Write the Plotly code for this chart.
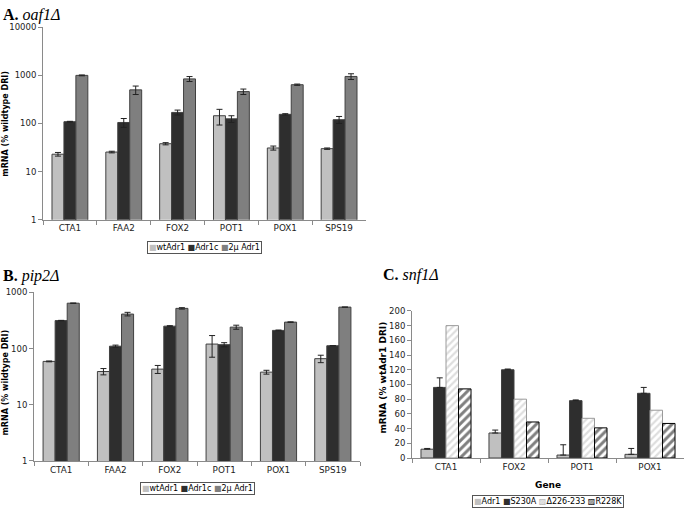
import plotly.graph_objects as go

W, H = 685, 514

# ---------------- data ----------------
genes_ab = ["CTA1", "FAA2", "FOX2", "POT1", "POX1", "SPS19"]
series_ab = ["wtAdr1", "Adr1c", "2μ Adr1"]

a_wt = [23, 25.5, 38, 145, 31, 30]
a_wt_err = [2, 1, 2, 52, 3, 1]
a_c = [109, 105, 170, 125, 155, 120]
a_c_err = [2, 22, 20, 20, 5, 20]
a_2u = [1000, 500, 845, 460, 640, 950]
a_2u_err = [20, 100, 100, 60, 20, 130]

b_wt = [59, 39, 43, 120, 38, 66]
b_wt_err = [1, 5, 7, 50, 3, 10]
b_c = [314, 110, 250, 117, 210, 112]
b_c_err = [3, 5, 5, 10, 3, 0]
b_2u = [640, 410, 518, 240, 295, 545]
b_2u_err = [3, 30, 15, 20, 3, 0]

genes_c = ["CTA1", "FOX2", "POT1", "POX1"]
series_c = ["Adr1", "S230A", "Δ226-233", "R228K"]
c_adr1 = [12, 34, 4, 5]
c_adr1_err = [1, 4, 14, 8]
c_s230a = [96, 120, 78, 88]
c_s230a_err = [13, 1, 1, 8]
c_d226 = [180, 80, 54, 65]
c_r228k = [94, 49, 41, 47]

log_ticks = [1, 10, 100, 1000, 10000]
log_text = ["1", "10", "100", "1000", "10000"]
lin_ticks = list(range(0, 201, 20))

# ---------------- helpers ----------------
def px_x(p):
    return p / W

def px_y(p):
    return 1 - p / H

fig = go.Figure()

col_light = "#c0c0c0"
col_dark = "#2e2e2e"
col_mid = "#7f7f7f"
edge = "#404040"

def add_bar(x, y, err, color, xa, ya, off, w, minus=True, pattern=None, line=edge):
    eb = None
    if err is not None:
        eb = dict(type="data", array=err, color="#222222", thickness=1, width=3, visible=True)
        if not minus:
            eb["symmetric"] = False
            eb["arrayminus"] = [0] * len(err)
    marker = dict(color=color, line=dict(color=line, width=1))
    if pattern:
        marker["pattern"] = pattern
    fig.add_trace(go.Bar(x=x, y=y, error_y=eb, marker=marker, xaxis=xa, yaxis=ya,
                         offset=off, width=w, showlegend=False))

wa = 0.222
offs_a = [-1.5 * wa, -0.5 * wa, 0.5 * wa]
for vals, errs, col, o in [(a_wt, a_wt_err, col_light, offs_a[0]),
                           (a_c, a_c_err, col_dark, offs_a[1]),
                           (a_2u, a_2u_err, col_mid, offs_a[2])]:
    add_bar(genes_ab, vals, errs, col, "x", "y", o, wa)

for vals, errs, col, o in [(b_wt, b_wt_err, col_light, offs_a[0]),
                           (b_c, b_c_err, col_dark, offs_a[1]),
                           (b_2u, b_2u_err, col_mid, offs_a[2])]:
    add_bar(genes_ab, vals, errs, col, "x2", "y2", o, wa)

wc = 0.184
offs_c = [-2 * wc, -wc, 0, wc]
add_bar(genes_c, c_adr1, c_adr1_err, col_light, "x3", "y3", offs_c[0], wc, minus=False)
add_bar(genes_c, c_s230a, c_s230a_err, col_dark, "x3", "y3", offs_c[1], wc, minus=False)
add_bar(genes_c, c_d226, None, "white", "x3", "y3", offs_c[2], wc,
        pattern=dict(shape="/", fgcolor="#bdbdbd", bgcolor="white", size=5, solidity=0.45),
        line="#9a9a9a")
add_bar(genes_c, c_r228k, None, "white", "x3", "y3", offs_c[3], wc,
        pattern=dict(shape="/", fgcolor="black", bgcolor="white", size=6, solidity=0.5),
        line="black")

tickfont = dict(family="DejaVu Sans", size=8.5, color="#222")
axcol = "#8a8a8a"

def xaxis(dom, anchor):
    return dict(domain=dom, anchor=anchor, type="category", showline=True, linecolor=axcol,
                linewidth=1, ticks="outside", tickson="boundaries", ticklen=4, tickcolor=axcol,
                tickfont=dict(family="DejaVu Sans", size=8.8, color="#222"), showgrid=False,
                zeroline=False, fixedrange=True)

def yaxis_log(dom, anchor, rng):
    return dict(domain=dom, anchor=anchor, type="log", range=rng, tickvals=log_ticks,
                ticktext=log_text, showline=True, linecolor=axcol, linewidth=1, ticks="outside",
                ticklen=4, tickcolor=axcol, tickfont=tickfont, showgrid=False, zeroline=False)

fig.update_layout(
    width=W, height=H, margin=dict(l=0, r=0, t=0, b=0),
    paper_bgcolor="white", plot_bgcolor="white",
    barmode="overlay",
    xaxis=xaxis([px_x(43), px_x(366)], "y"),
    yaxis=yaxis_log([px_y(219), px_y(22.7)], "x", [0, 4]),
    xaxis2=xaxis([px_x(34), px_x(360)], "y2"),
    yaxis2=yaxis_log([px_y(465), px_y(293)], "x2", [0, 3]),
    xaxis3=xaxis([px_x(412), px_x(684)], "y3"),
    yaxis3=dict(domain=[px_y(462), px_y(312)], anchor="x3", range=[0, 200], tickvals=lin_ticks,
                showline=True, linecolor=axcol, linewidth=1, ticks="outside", ticklen=4,
                tickcolor=axcol, tickfont=tickfont, showgrid=False, zeroline=False),
    showlegend=False,
)

ann = []

def note(text, x, y, font, xanchor="center", yanchor="middle", **kw):
    ann.append(dict(text=text, x=px_x(x), y=px_y(y), xref="paper", yref="paper",
                    xanchor=xanchor, yanchor=yanchor, showarrow=False, font=font, **kw))

title_font = dict(family="Liberation Serif", size=16, color="black")
note("<b>A.</b> <i>oaf1Δ</i>", 1, -1, title_font, xanchor="left", yanchor="top")
note("<b>B.</b> <i>pip2Δ</i>", 1, 265, title_font, xanchor="left", yanchor="top")
note("<b>C.</b> <i>snf1Δ</i>", 381, 264, title_font, xanchor="left", yanchor="top")

ytf = dict(family="DejaVu Sans", size=8, color="black")
note("<b>mRNA (% wildtype DRI)</b>", 6, 121, ytf, textangle=-90)
note("<b>mRNA (% wildtype DRI)</b>", 6, 385, ytf, textangle=-90)
note("<b>mRNA (% wtAdr1 DRI)</b>", 383, 380, dict(family="DejaVu Sans", size=9, color="black"),
     textangle=-90)
note("<b>Gene</b>", 548, 490, dict(family="DejaVu Sans", size=9, color="black"))

def legend_text(names, colors, glyphs):
    parts = []
    for n, c, g in zip(names, colors, glyphs):
        parts.append(f'<span style="color:{c}">{g}</span>{n}')
    return " ".join(parts)

lf = dict(family="DejaVu Sans", size=8, color="black")
box = dict(bordercolor="#555", borderwidth=1, borderpad=1, bgcolor="white")
ab_leg = legend_text(series_ab, [col_light, col_dark, col_mid], ["■"] * 3)
note(ab_leg, 204, 247, lf, **box)
note(ab_leg, 197, 493, lf, **box)
c_leg = legend_text(series_c, [col_light, col_dark, "#b0b0b0", "black"], ["■", "■", "▨", "▨"])
note(c_leg, 548, 506, lf, **box)

fig.update_layout(annotations=ann)
fig.write_html("out.html", config={"displayModeBar": False},
               post_script="document.body.style.margin='0';document.body.style.overflow='hidden';")
